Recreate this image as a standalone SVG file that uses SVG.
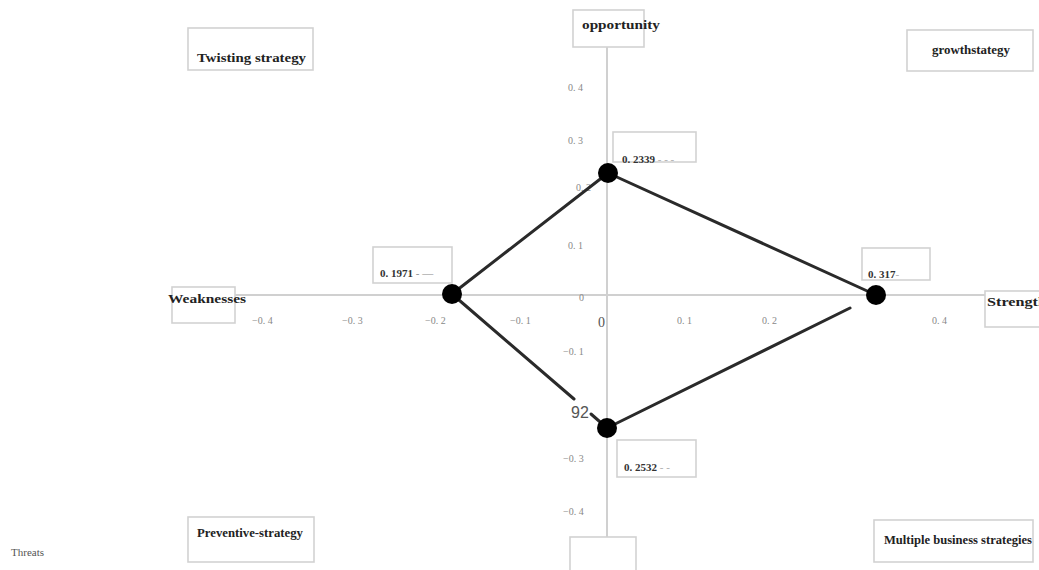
<svg xmlns="http://www.w3.org/2000/svg" width="1039" height="570" viewBox="0 0 1039 570">
<style>
.bx{fill:#fff;stroke:#d2d2d2;stroke-width:1.6}
.lb{font-family:"Liberation Serif",serif;font-weight:bold;font-size:12px;fill:#222}
.vl{font-family:"Liberation Serif",serif;font-weight:bold;font-size:11px;fill:#333}
.tk{font-family:"Liberation Serif",serif;font-size:10px;fill:#888}
.ax{stroke:#d0d0d0;stroke-width:2;fill:none}
.cn{stroke:#2a2a2a;stroke-width:3;fill:none;stroke-linecap:round}
.dot{fill:#000}
.dash{fill:#aaa}
</style>
<rect width="1039" height="570" fill="#fff"/>
<g id="axes">
<line class="ax" x1="607" y1="46" x2="607" y2="538"/>
<line class="ax" x1="235" y1="295" x2="986" y2="295"/>
</g>
<g id="ticks">
<text class="tk" x="252" y="324">−0. 4</text>
<text class="tk" x="342" y="324">−0. 3</text>
<text class="tk" x="425" y="324">−0. 2</text>
<text class="tk" x="510" y="324">−0. 1</text>
<text x="598" y="327" style="font-family:'Liberation Serif',serif;font-size:14px;fill:#555">0</text>
<text class="tk" x="677" y="324">0. 1</text>
<text class="tk" x="762" y="324">0. 2</text>
<text class="tk" x="932" y="324">0. 4</text>
<text class="tk" x="568" y="91">0. 4</text>
<text class="tk" x="568" y="144">0. 3</text>
<text class="tk" x="576" y="191">0. 2</text>
<text class="tk" x="568" y="249">0. 1</text>
<text class="tk" x="579" y="301">0</text>
<text class="tk" x="563" y="355">−0. 1</text>
<text class="tk" x="563" y="462">−0. 3</text>
<text class="tk" x="563" y="515">−0. 4</text>
</g>
<g id="connectors">
<line class="cn" x1="452" y1="294" x2="608" y2="173"/>
<line class="cn" x1="608" y1="173" x2="876" y2="295"/>
<line class="cn" x1="452" y1="294" x2="574" y2="399"/>
<line class="cn" x1="591" y1="414" x2="607" y2="428"/>
<line class="cn" x1="607" y1="428" x2="850" y2="308"/>
<text x="571" y="418" style="font-family:'Liberation Sans',sans-serif;font-size:16px;fill:#555">92</text>
</g>
<g id="node-top"><circle class="dot" cx="608" cy="173" r="10"/></g>
<g id="node-left"><circle class="dot" cx="452" cy="294" r="10"/></g>
<g id="node-right"><circle class="dot" cx="876" cy="295" r="10"/></g>
<g id="node-bottom"><circle class="dot" cx="607" cy="428" r="10"/></g>
<g id="label-twisting">
<rect class="bx" x="188" y="28" width="125" height="42"/>
<text class="lb" x="197" y="62" textLength="109" lengthAdjust="spacingAndGlyphs">Twisting strategy</text>
</g>
<g id="label-opportunity">
<rect class="bx" x="573" y="10" width="71" height="37"/>
<text class="lb" x="582" y="29" textLength="78" lengthAdjust="spacingAndGlyphs">opportunity</text>
</g>
<g id="label-growth">
<rect class="bx" x="907" y="30" width="126" height="41"/>
<text class="lb" x="932" y="54" textLength="78" lengthAdjust="spacingAndGlyphs">growthstategy</text>
</g>
<g id="label-v2339">
<rect class="bx" x="613" y="132" width="83" height="30"/>
<text class="vl" x="622" y="163">0. 2339 <tspan fill="#aaa" font-weight="normal">- - -</tspan></text>
</g>
<g id="label-v1971">
<rect class="bx" x="373" y="247" width="79" height="36"/>
<text class="vl" x="380" y="277">0. 1971 <tspan fill="#888" font-weight="normal">- —</tspan></text>
</g>
<g id="label-v317">
<rect class="bx" x="862" y="248" width="68" height="32"/>
<text class="vl" x="868" y="278">0. 317<tspan fill="#aaa" font-weight="normal">-</tspan></text>
</g>
<g id="label-v2532">
<rect class="bx" x="617" y="440" width="79" height="37"/>
<text class="vl" x="624" y="471">0. 2532 <tspan fill="#aaa" font-weight="normal">- -</tspan></text>
</g>
<g id="label-weaknesses">
<rect class="bx" x="172" y="287" width="63" height="36"/>
<text class="lb" x="168" y="303" textLength="78" lengthAdjust="spacingAndGlyphs">Weaknesses</text>
</g>
<g id="label-strength">
<rect class="bx" x="985" y="291" width="60" height="36"/>
<text class="lb" x="987" y="306" textLength="60" lengthAdjust="spacingAndGlyphs">Strength</text>
</g>
<g id="label-preventive">
<rect class="bx" x="188" y="517" width="126" height="45"/>
<text class="lb" x="197" y="537" textLength="106" lengthAdjust="spacingAndGlyphs">Preventive-strategy</text>
</g>
<g id="label-multiple">
<rect class="bx" x="874" y="520" width="159" height="42"/>
<text class="lb" x="884" y="544" textLength="148" lengthAdjust="spacingAndGlyphs">Multiple business strategies</text>
</g>
<g id="label-bottom">
<rect class="bx" x="570" y="537" width="66" height="40"/>
</g>
<g id="label-threats">
<text x="11" y="556" style="font-family:'Liberation Serif',serif;font-size:11px;fill:#555">Threats</text>
</g>
</svg>
